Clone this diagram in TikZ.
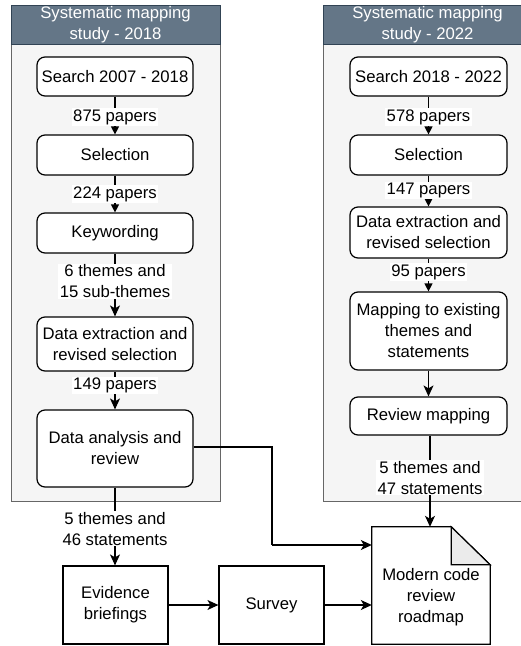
\documentclass[tikz,border=0pt]{standalone}
\usepackage{fontspec}
\setmainfont{Liberation Sans}
\usetikzlibrary{arrows.meta,calc}
\definecolor{hdrfill}{HTML}{647687}
\definecolor{hdrline}{HTML}{314354}
\definecolor{bodyfill}{HTML}{F5F5F5}
\definecolor{bodyline}{HTML}{666666}
\definecolor{foldfill}{HTML}{EBEBEB}
\tikzset{
  base/.style={font=\fontsize{16.7}{21}\selectfont, align=center, inner sep=0pt},
  stepbox/.style={base, draw=black, line width=1.2pt, fill=white, rounded corners=8pt, minimum width=156pt},
  plainbox/.style={base, draw=black, line width=1.2pt, fill=white, minimum width=105pt, minimum height=78pt},
  lbl/.style={base, fill=white, inner xsep=1.5pt, inner ysep=1pt},
  conn/.style={line width=1.2pt, -{Stealth[length=11pt,width=10pt,inset=3pt]}},
  connb/.style={line width=1.2pt, -{Triangle[length=8pt,width=8pt]}},
  hdr/.style={base, text=white},
}
\begin{document}
\begin{tikzpicture}[x=1pt,y=-1pt]
\useasboundingbox (0,0) rectangle (521,646);
\clip (0,0) rectangle (521,646);
\fill[white] (0,0) rectangle (521,646);
% containers
\draw[bodyline, fill=bodyfill, line width=1pt] (11,44) rectangle (220,501);
\draw[hdrline, fill=hdrfill, line width=1pt] (11,5) rectangle (220,44);
\node[hdr] (hdr1) at (115.5,24.5) {Systematic mapping\\study - 2018};
\draw[bodyline, fill=bodyfill, line width=1pt] (323,44) rectangle (532,501);
\draw[hdrline, fill=hdrfill, line width=1pt] (323,5) rectangle (532,44);
\node[hdr] (hdr2) at (427.5,24.5) {Systematic mapping\\study - 2022};
% left column
\node[stepbox, minimum height=39pt] (s1) at (115,76.5) {Search 2007 - 2018};
\node[stepbox, minimum height=40pt] (sel1) at (115,155) {Selection};
\node[stepbox, minimum height=40pt] (kw) at (115,233) {Keywording};
\node[stepbox, minimum height=54pt] (de1) at (115,344) {Data extraction and\\revised selection};
\node[stepbox, minimum height=77pt] (da) at (115,448.5) {Data analysis and\\review};
% right column
\node[stepbox, minimum width=157pt, minimum height=39pt] (s2) at (428.5,76.5) {Search 2018 - 2022};
\node[stepbox, minimum width=157pt, minimum height=40pt] (sel2) at (428.5,155) {Selection};
\node[stepbox, minimum width=157pt, minimum height=51pt] (de2) at (428.5,232.5) {Data extraction and\\revised selection};
\node[stepbox, minimum width=157pt, minimum height=78pt] (map) at (428.5,331) {Mapping to existing\\themes and\\statements};
\node[stepbox, minimum width=157pt, minimum height=38pt] (rev) at (428.5,416) {Review mapping};
% bottom
\node[plainbox] (eb) at (115.5,605) {Evidence\\briefings};
\node[plainbox] (sv) at (271.5,605) {Survey};
\node[base, minimum width=118pt, minimum height=117pt] (rm) at (431,585.5) {};
\draw[line width=1.2pt, fill=white] (rm.north west) -- ($(rm.north east)+(-39,0)$) -- ($(rm.north east)+(0,38)$) -- (rm.south east) -- (rm.south west) -- cycle;
\draw[line width=1.2pt, fill=foldfill] ($(rm.north east)+(-39,0)$) -- ($(rm.north east)+(-39,38)$) -- ($(rm.north east)+(0,38)$) -- cycle;
\node[base] (rmt) at (431,597) {Modern code\\review\\roadmap};
% connectors left
\draw[connb] (s1) -- node[lbl, pos=0.54] (l1) {875 papers} (sel1);
\draw[connb] (sel1) -- node[lbl, pos=0.5] (l2) {224 papers} (kw);
\draw[conn] (kw) -- node[lbl, pos=0.44] (l3) {6 themes and\\15 sub-themes} (de1);
\draw[conn] (de1) -- node[lbl, pos=0.36] (l4) {149 papers} (da);
\draw[conn] (da.south) -- node[lbl, pos=0.53] (l5) {5 themes and\\46 statements} (da.south |- eb.north);
% connectors right
\draw[connb] (s2) -- node[lbl, pos=0.54] (r1) {578 papers} (sel2);
\draw[connb] (sel2) -- node[lbl, pos=0.47] (r2) {147 papers} (de2);
\draw[connb] (de2) -- node[lbl, pos=0.41] (r3) {95 papers} (map);
\draw[conn] (map) -- (rev);
\draw[conn] ($(rev.south)+(1.5,0)$) -- node[lbl, pos=0.46] (r4) {5 themes and\\47 statements} ($(rev.south |- rm.north)+(1.5,0)$);
% bottom connectors
\coordinate (bend) at (272,545);
\draw[line width=1.2pt] (da.east |- 0,447) -- (bend |- 0,447) -- (bend);
\draw[conn] (bend) -- (bend -| rm.west);
\draw[conn] (eb) -- (sv);
\draw[conn] (sv.east) -- (sv.east -| rm.west);
\end{tikzpicture}
\end{document}
